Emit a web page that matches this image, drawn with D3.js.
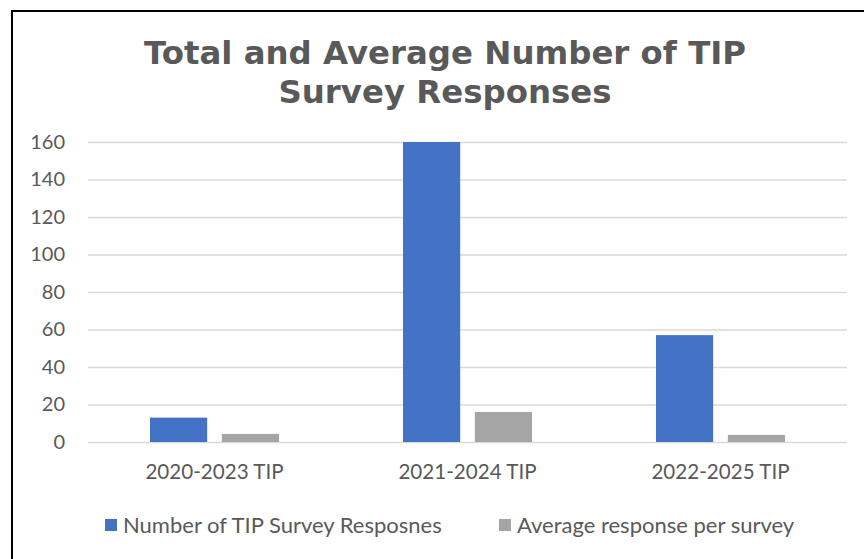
<!DOCTYPE html>
<html>
<head>
<meta charset="utf-8">
<script src="https://cdn.jsdelivr.net/npm/d3@7"></script>
<style>
  html, body { margin: 0; padding: 0; background: #fff; }
  svg { display: block; }
</style>
</head>
<body>
<svg id="chart" width="864" height="559"></svg>
<script>
const titleLines = ["Total and Average Number of TIP", "Survey Responses"];
const categories = ["2020-2023 TIP", "2021-2024 TIP", "2022-2025 TIP"];
const seriesNames = ["Number of TIP Survey Resposnes", "Average response per survey"];
const totalResponses = [13, 160, 57];
const averageResponses = [4.3, 16, 3.8];
const seriesColors = ["#4472C4", "#A5A5A5"];
const yTicks = [0, 20, 40, 60, 80, 100, 120, 140, 160];

const svg = d3.select("#chart");
const W = 864, H = 559;
const plot = { left: 88, right: 847, top: 142, bottom: 442 };
const textColor = "#595959";
const labelFont = "Lato, 'Open Sans', sans-serif";

svg.append("rect").attr("width", W).attr("height", H).attr("fill", "#fff");
// chart border (only top-left visible)
svg.append("rect").attr("x", 12).attr("y", 11).attr("width", 900).attr("height", 600)
  .attr("fill", "none").attr("stroke", "#000").attr("stroke-width", 2);

// title
svg.append("g").selectAll("text").data(titleLines).join("text")
  .attr("x", 445).attr("y", (d, i) => 64 + i * 39)
  .attr("text-anchor", "middle")
  .attr("font-family", "'DejaVu Sans', Verdana, sans-serif")
  .attr("font-weight", "bold").attr("font-size", 32.4)
  .attr("fill", textColor)
  .text(d => d);

const y = d3.scaleLinear().domain([0, 160]).range([plot.bottom, plot.top]);
const x0 = d3.scaleBand().domain(categories).range([plot.left, plot.right]);
const x1 = d3.scaleBand().domain(seriesNames).range([62, 191]).paddingInner(0.204);

// gridlines
const yAxis = d3.axisLeft(y).tickValues(yTicks).tickSize(-(plot.right - plot.left)).tickPadding(23);
const gy = svg.append("g").attr("transform", `translate(${plot.left},0)`).call(yAxis);
gy.select(".domain").remove();
gy.selectAll(".tick line").attr("stroke", "#D9D9D9").attr("stroke-width", 1.5);
gy.selectAll(".tick text").attr("fill", textColor).attr("font-family", labelFont).attr("font-size", 20);

// bars
const data = categories.map((c, i) => ({ cat: c, values: [totalResponses[i], averageResponses[i]] }));
const groups = svg.append("g").selectAll("g").data(data).join("g")
  .attr("transform", d => `translate(${x0(d.cat)},0)`);
groups.selectAll("rect").data(d => d.values.map((v, j) => ({ s: seriesNames[j], v, j })))
  .join("rect")
  .attr("x", d => x1(d.s))
  .attr("y", d => y(d.v))
  .attr("width", x1.bandwidth())
  .attr("height", d => y(0) - y(d.v))
  .attr("fill", d => seriesColors[d.j]);

// x labels
const xAxis = d3.axisBottom(x0).tickSize(0).tickPadding(22);
const gx = svg.append("g").attr("transform", `translate(0,${plot.bottom})`).call(xAxis);
gx.select(".domain").remove();
gx.selectAll(".tick text").attr("fill", textColor).attr("font-family", labelFont).attr("font-size", 20.6);

// legend
const legendX = [105, 499];
const lg = svg.append("g").selectAll("g").data(seriesNames).join("g")
  .attr("transform", (d, i) => `translate(${legendX[i]},525)`);
lg.append("rect").attr("x", 0).attr("y", -6).attr("width", 12).attr("height", 12)
  .attr("fill", (d, i) => seriesColors[i]);
lg.append("text").attr("x", 18).attr("y", 0).attr("dy", "0.35em")
  .attr("fill", textColor).attr("font-family", labelFont).attr("font-size", 22)
  .text(d => d);
</script>
</body>
</html>
